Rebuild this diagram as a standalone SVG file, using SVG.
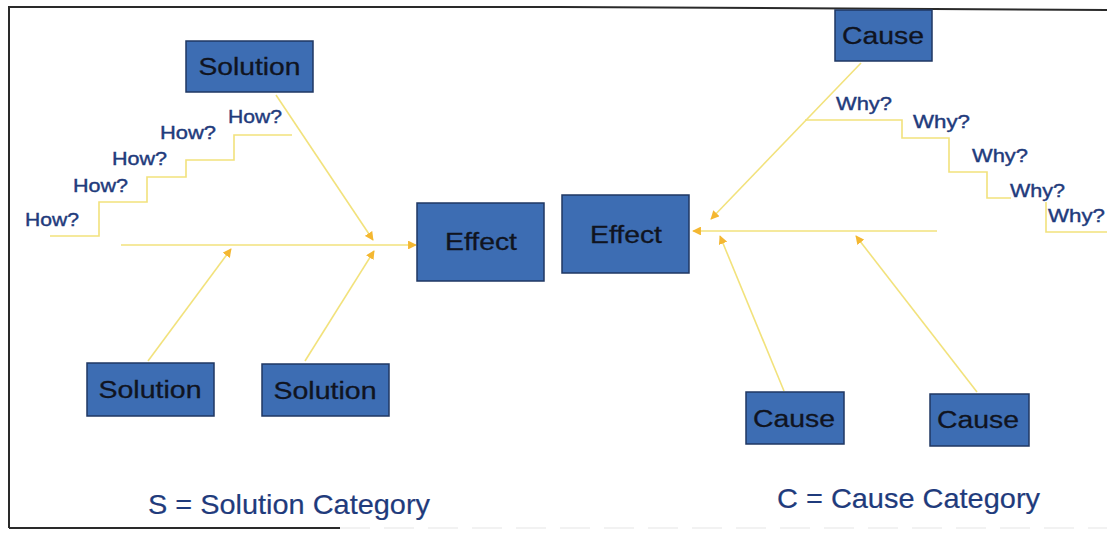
<svg xmlns="http://www.w3.org/2000/svg" width="1107" height="533" viewBox="0 0 1107 533">
<style>
.box{fill:#3d6db3;stroke:#1f3763;stroke-width:1.5}
.bt{font-family:"Liberation Sans",Arial,sans-serif;font-size:23px;fill:#10141f;stroke:#10141f;stroke-width:0.3;text-anchor:middle}
.lbl{font-family:"Liberation Sans",Arial,sans-serif;font-size:18px;fill:#1f3b7c;stroke:#1f3b7c;stroke-width:0.4}
.cap{font-family:"Liberation Sans",Arial,sans-serif;font-size:28px;fill:#1f3b7c;stroke:#1f3b7c;stroke-width:0.2}
.ln{stroke:#f2e27c;stroke-width:1.6;fill:none}
.arr{stroke:#f2e27c;stroke-width:1.6;fill:none;marker-end:url(#ah)}
</style>
<defs>
<marker id="ah" viewBox="0 0 10 10" refX="9" refY="5" markerWidth="5.5" markerHeight="5.5" markerUnits="strokeWidth" orient="auto">
<path d="M0,0 L10,5 L0,10 z" fill="#f4b731"/>
</marker>
</defs>
<rect width="1107" height="533" fill="#ffffff"/>
<g id="frame" fill="none">
<path d="M9,528 L9,7 L560,7 L1107,10" stroke="#2a2a2a" stroke-width="2"/>
<path d="M9,528 L340,528" stroke="#2a2a2a" stroke-width="2"/>
<path d="M340,528 L1107,528" stroke="#bdbdbd" stroke-width="1" stroke-dasharray="30,14" opacity="0.4"/>
</g>
<g id="connectors">
<path class="arr" d="M121,245 L416,245"/>
<path class="arr" d="M276,95 L373,240"/>
<path class="arr" d="M148,361 L231,249"/>
<path class="arr" d="M305,361 L374,251"/>
<path class="ln" d="M50,236 H99 V202 H147 V177 H186 V160 H234 V135 H292"/>
<path class="arr" d="M861,63 L711,219"/>
<path class="arr" d="M937,231 L693,231"/>
<path class="arr" d="M784,391 L720,236"/>
<path class="arr" d="M977,392 L856,236"/>
<path class="ln" d="M805,120 H902 V138 H949 V172 H987 V198 H1011"/>
<path class="ln" d="M1046,202 V232 H1107"/>
</g>
<g id="solution-top"><rect class="box" x="186" y="41" width="127" height="51"/><text class="bt" x="249.5" y="75" textLength="102" lengthAdjust="spacingAndGlyphs">Solution</text></g>
<g id="solution-bl"><rect class="box" x="87" y="363" width="127" height="53"/><text class="bt" x="150" y="398" textLength="103" lengthAdjust="spacingAndGlyphs">Solution</text></g>
<g id="solution-br"><rect class="box" x="262" y="364" width="127" height="52"/><text class="bt" x="325" y="399" textLength="103" lengthAdjust="spacingAndGlyphs">Solution</text></g>
<g id="effect-left"><rect class="box" x="417" y="203" width="127" height="78"/><text class="bt" x="481" y="250" textLength="72" lengthAdjust="spacingAndGlyphs">Effect</text></g>
<g id="effect-right"><rect class="box" x="562" y="195" width="127" height="78"/><text class="bt" x="626" y="243" textLength="72" lengthAdjust="spacingAndGlyphs">Effect</text></g>
<g id="cause-top"><rect class="box" x="835" y="10" width="97" height="51"/><text class="bt" x="883" y="44" textLength="82" lengthAdjust="spacingAndGlyphs">Cause</text></g>
<g id="cause-bl"><rect class="box" x="746" y="392" width="98" height="52"/><text class="bt" x="794" y="427" textLength="82" lengthAdjust="spacingAndGlyphs">Cause</text></g>
<g id="cause-br"><rect class="box" x="930" y="394" width="99" height="52"/><text class="bt" x="978" y="428" textLength="82" lengthAdjust="spacingAndGlyphs">Cause</text></g>
<g id="how-labels">
<text class="lbl" x="25" y="226" textLength="54" lengthAdjust="spacingAndGlyphs">How?</text>
<text class="lbl" x="73" y="192" textLength="55" lengthAdjust="spacingAndGlyphs">How?</text>
<text class="lbl" x="112" y="165" textLength="55" lengthAdjust="spacingAndGlyphs">How?</text>
<text class="lbl" x="160" y="139" textLength="56" lengthAdjust="spacingAndGlyphs">How?</text>
<text class="lbl" x="228" y="123" textLength="54" lengthAdjust="spacingAndGlyphs">How?</text>
</g>
<g id="why-labels">
<text class="lbl" x="836" y="110" textLength="56" lengthAdjust="spacingAndGlyphs">Why?</text>
<text class="lbl" x="913" y="128" textLength="57" lengthAdjust="spacingAndGlyphs">Why?</text>
<text class="lbl" x="972" y="162" textLength="56" lengthAdjust="spacingAndGlyphs">Why?</text>
<text class="lbl" x="1010" y="197" textLength="55" lengthAdjust="spacingAndGlyphs">Why?</text>
<text class="lbl" x="1048" y="222" textLength="57" lengthAdjust="spacingAndGlyphs">Why?</text>
</g>
<g id="captions">
<text class="cap" x="148" y="514" textLength="282" lengthAdjust="spacingAndGlyphs">S = Solution Category</text>
<text class="cap" x="777" y="508" textLength="263" lengthAdjust="spacingAndGlyphs">C = Cause Category</text>
</g>
</svg>
